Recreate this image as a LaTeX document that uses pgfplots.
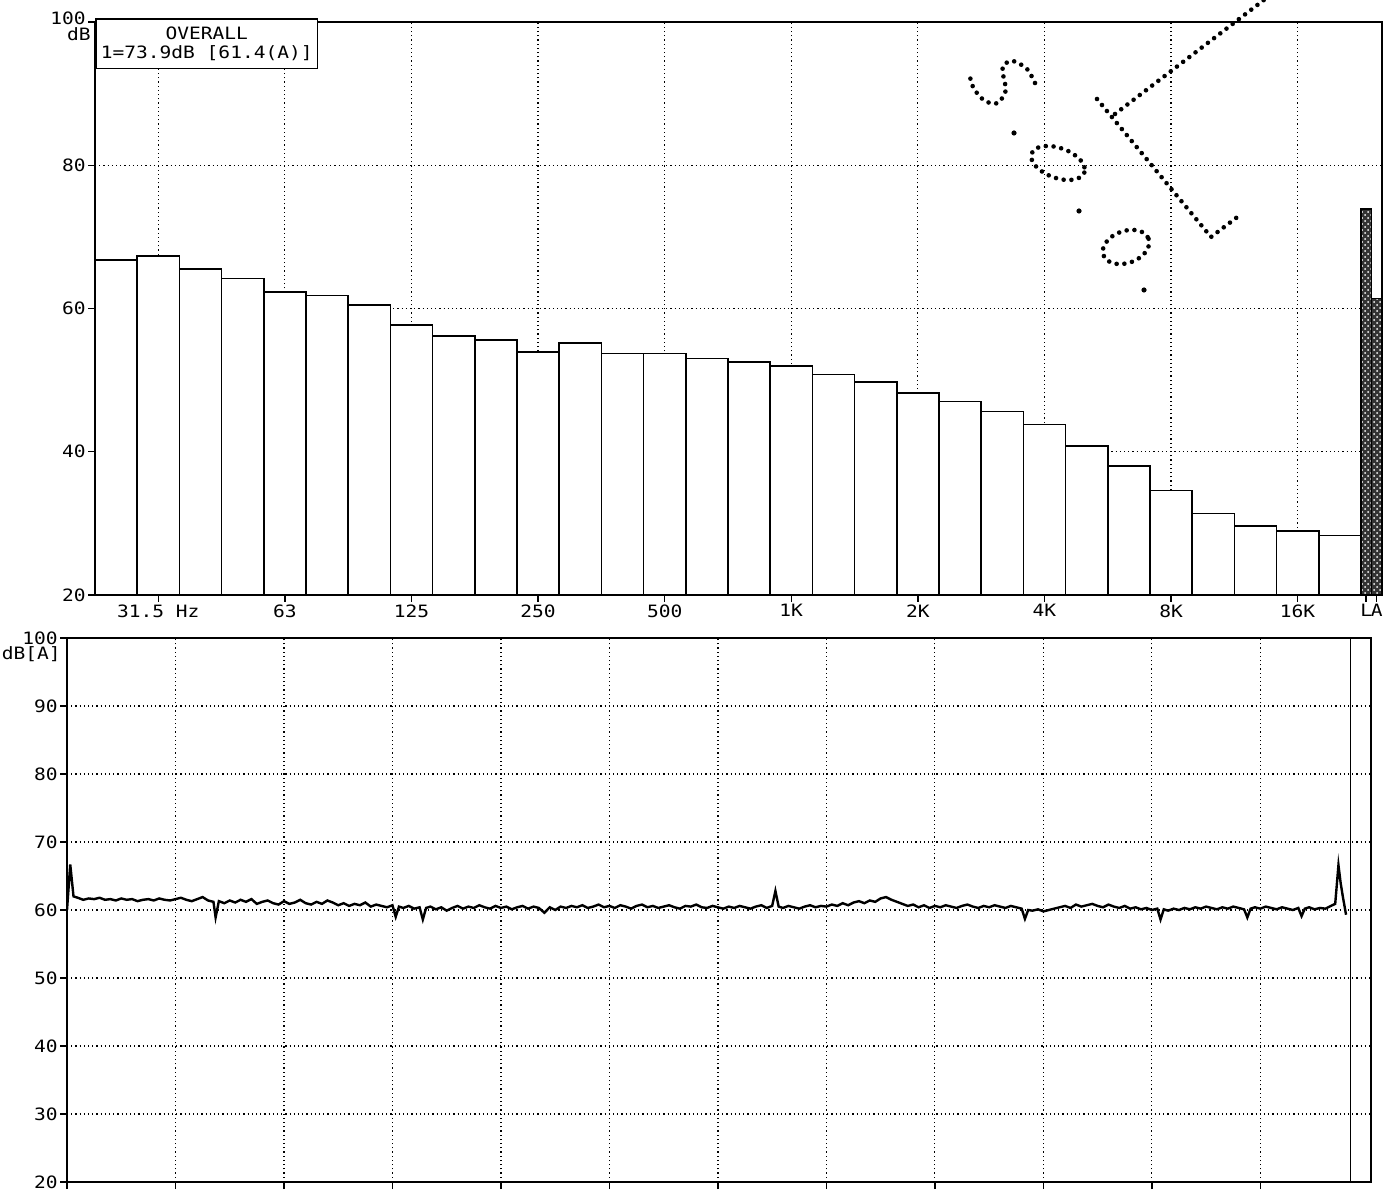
\documentclass[border=0pt]{standalone}
\usepackage{fontspec}
\usepackage{pgfplots}
\pgfplotsset{compat=1.18}
\usetikzlibrary{patterns}
\newfontfamily\prt[FakeStretch=1.15]{DejaVu Sans Mono}
\newcommand\pf{\fontsize{8.5}{8.5}\selectfont\prt}

\pgfplotsset{
  printer/.style={
    scale only axis,
    axis line style={line width=0.9pt},
    tick style={black, line width=0.7pt},
    tick align=outside, major tick length=3.5pt,
    xtick pos=bottom, ytick pos=left,
    grid=major,
    major grid style={black, line width=0.6pt, dash pattern=on 0.6pt off 1.5pt},
    ticklabel style={font=\pf, inner sep=1pt},
  },
}
\tikzset{pen/.style={line width=2.3pt, line cap=round, dash pattern=on 0pt off 3.9pt}}

\begin{document}
\begin{tikzpicture}
\useasboundingbox (0,0) rectangle (699.5pt,595pt);

% 1/3-octave spectrum, bands 25 Hz ... 20 kHz, then L and A overall levels
\begin{axis}[printer, name=spec,
  at={(47.5pt,297.5pt)}, anchor=south west,
  width=643.5pt, height=286.5pt,
  xmin=0.5, xmax=31.0, ymin=20, ymax=100,
  ytick={20,40,60,80}, yticklabels={20,40,60,80},
  extra y ticks={100}, extra y tick labels={100},
  extra y tick style={yticklabel style={yshift=2pt}},
  xtick={2,5,...,29},
  xticklabels={31.5 Hz,63,125,250,500,1K,2K,4K,8K,16K},
  extra x ticks={30.625,30.875}, extra x tick labels={L,A},
  extra x tick style={grid=none},
]
\addplot[ybar, bar width=1, bar shift=0pt, fill=white, draw=black, line width=0.8pt]
coordinates {
 (1,66.8) (2,67.3) (3,65.5) (4,64.2) (5,62.3) (6,61.8) (7,60.5) (8,57.7)
 (9,56.2) (10,55.6) (11,53.9) (12,55.2) (13,53.7) (14,53.7) (15,53.0)
 (16,52.5) (17,52.0) (18,50.8) (19,49.7) (20,48.2) (21,47.0) (22,45.6)
 (23,43.8) (24,40.8) (25,38.0) (26,34.6) (27,31.4) (28,29.6) (29,28.9)
 (30,28.3)};
\addplot[ybar, bar width=0.25, bar shift=0pt, fill=black!80, draw=black, line width=0.6pt,
  postaction={pattern=crosshatch dots, pattern color=white}]
coordinates {(30.625,73.9)};
\addplot[ybar, bar width=0.25, bar shift=0pt, fill=black!80, draw=black, line width=0.6pt,
  postaction={pattern=crosshatch dots, pattern color=white}]
coordinates {(30.875,61.4)};
\draw[line width=0.9pt] (rel axis cs:0,0) -- (rel axis cs:1,0);
\end{axis}
\node[anchor=north west, draw, line width=0.8pt, fill=white, align=center,
  font=\pf, inner xsep=2.5pt, inner ysep=4pt] at ([yshift=2pt]spec.north west) {OVERALL\\[1pt]1=73.9dB [61.4(A)]};
\node[anchor=east, font=\pf, inner sep=1pt] at ([xshift=-1pt,yshift=-6pt]spec.north west) {dB};

% A-weighted level versus time
\begin{axis}[printer, name=hist,
  at={(33.5pt,4pt)}, anchor=south west,
  width=652pt, height=272pt,
  xmin=0, xmax=12.02, ymin=20, ymax=100,
  ytick={20,30,...,100}, yticklabels={20,30,40,50,60,70,80,90,100},
  xtick={0,1,...,11}, xticklabels={},
]
\addplot[black, line width=1.2pt] coordinates {
 (0.00,60.0) (0.03,66.7) (0.06,62.0) (0.10,61.8) (0.15,61.5) (0.20,61.7)
 (0.25,61.6) (0.30,61.8) (0.35,61.5) (0.40,61.6) (0.45,61.4) (0.50,61.7)
 (0.55,61.5) (0.60,61.6) (0.65,61.3) (0.70,61.5) (0.75,61.6) (0.80,61.4)
 (0.85,61.7) (0.90,61.5) (0.95,61.4) (1.00,61.6) (1.05,61.8) (1.10,61.5)
 (1.15,61.3) (1.20,61.6) (1.25,61.9) (1.30,61.4) (1.35,61.2) (1.37,58.9)
 (1.40,61.3) (1.45,61.0) (1.50,61.4) (1.55,61.1) (1.60,61.5) (1.65,61.2)
 (1.70,61.6) (1.75,60.9) (1.80,61.2) (1.85,61.4) (1.90,61.0) (1.95,60.8)
 (2.00,61.3) (2.05,60.9) (2.10,61.1) (2.15,61.5) (2.20,61.0) (2.25,60.8)
 (2.30,61.2) (2.35,60.9) (2.40,61.4) (2.45,61.1) (2.50,60.7) (2.55,61.0)
 (2.60,60.6) (2.65,60.9) (2.70,60.7) (2.75,61.1) (2.80,60.5) (2.85,60.8)
 (2.90,60.6) (2.95,60.4) (3.00,60.7) (3.03,59.0) (3.06,60.5) (3.10,60.3)
 (3.15,60.6) (3.20,60.2) (3.25,60.4) (3.28,58.6) (3.31,60.3) (3.35,60.5)
 (3.40,60.1) (3.45,60.4) (3.50,59.9) (3.55,60.3) (3.60,60.6) (3.65,60.2)
 (3.70,60.5) (3.75,60.3) (3.80,60.7) (3.85,60.4) (3.90,60.2) (3.95,60.6)
 (4.00,60.3) (4.05,60.5) (4.10,60.1) (4.15,60.4) (4.20,60.6) (4.25,60.2)
 (4.30,60.5) (4.35,60.3) (4.40,59.6) (4.45,60.4) (4.50,60.0) (4.55,60.5)
 (4.60,60.3) (4.65,60.6) (4.70,60.4) (4.75,60.7) (4.80,60.3) (4.85,60.5)
 (4.90,60.8) (4.95,60.4) (5.00,60.6) (5.05,60.3) (5.10,60.7) (5.15,60.5)
 (5.20,60.2) (5.25,60.6) (5.30,60.8) (5.35,60.4) (5.40,60.6) (5.45,60.3)
 (5.50,60.5) (5.55,60.7) (5.60,60.4) (5.65,60.2) (5.70,60.6) (5.75,60.5)
 (5.80,60.8) (5.85,60.4) (5.90,60.3) (5.95,60.6) (6.00,60.4) (6.05,60.2)
 (6.10,60.5) (6.15,60.3) (6.20,60.6) (6.25,60.4) (6.30,60.2) (6.35,60.5)
 (6.40,60.7) (6.45,60.3) (6.50,60.6) (6.53,62.8) (6.56,60.5) (6.60,60.3)
 (6.65,60.6) (6.70,60.4) (6.75,60.2) (6.80,60.5) (6.85,60.7) (6.90,60.4)
 (6.95,60.6) (7.00,60.5) (7.05,60.8) (7.10,60.6) (7.15,61.0) (7.20,60.7)
 (7.25,61.1) (7.30,61.3) (7.35,61.0) (7.40,61.4) (7.45,61.2) (7.50,61.7)
 (7.55,61.9) (7.60,61.5) (7.65,61.2) (7.70,60.9) (7.75,60.6) (7.80,60.8)
 (7.85,60.4) (7.90,60.7) (7.95,60.3) (8.00,60.6) (8.05,60.4) (8.10,60.7)
 (8.15,60.5) (8.20,60.3) (8.25,60.6) (8.30,60.8) (8.35,60.5) (8.40,60.3)
 (8.45,60.6) (8.50,60.4) (8.55,60.7) (8.60,60.5) (8.65,60.3) (8.70,60.6)
 (8.75,60.4) (8.80,60.2) (8.83,58.7) (8.86,60.0) (8.90,59.9) (8.95,60.1)
 (9.00,59.8) (9.05,60.0) (9.10,60.2) (9.15,60.4) (9.20,60.6) (9.25,60.3)
 (9.30,60.8) (9.35,60.5) (9.40,60.7) (9.45,60.9) (9.50,60.6) (9.55,60.4)
 (9.60,60.8) (9.65,60.5) (9.70,60.3) (9.75,60.6) (9.80,60.2) (9.85,60.4)
 (9.90,60.1) (9.95,60.3) (10.00,60.0) (10.05,60.2) (10.08,58.6) (10.11,60.1)
 (10.15,59.9) (10.20,60.2) (10.25,60.0) (10.30,60.3) (10.35,60.1) (10.40,60.4)
 (10.45,60.2) (10.50,60.5) (10.55,60.3) (10.60,60.1) (10.65,60.4) (10.70,60.2)
 (10.75,60.5) (10.80,60.3) (10.85,60.1) (10.88,58.9) (10.91,60.2) (10.95,60.4)
 (11.00,60.2) (11.05,60.5) (11.10,60.3) (11.15,60.1) (11.20,60.4) (11.25,60.2)
 (11.30,60.0) (11.35,60.3) (11.38,59.1) (11.41,60.2) (11.45,60.4) (11.50,60.1)
 (11.55,60.3) (11.60,60.2) (11.65,60.6) (11.69,60.9) (11.72,66.6) (11.74,64.0)
 (11.76,62.0) (11.79,59.3)};
% end of the time record, the LA column lies to its right
\draw[line width=0.8pt] (axis cs:11.83,20) -- (axis cs:11.83,100);
\end{axis}
\node[anchor=east, font=\pf, inner sep=1pt] at ([xshift=-2pt,yshift=-8pt]hist.north west) {dB[A]};

% dotted hand annotation plotted by the recorder pen
\begin{scope}[x=0.5pt, y=-0.5pt, shift={(0pt,595pt)}]
  \draw[pen] plot[smooth] coordinates {(1035,83) (1027,69) (1013,61) (1003,66)
    (1004,80) (1006,90) (998,103) (985,101) (974,89) (970,77)};
  \fill (1014,133) circle (1.3pt);
  \draw[pen] (1058,163) ellipse [x radius=28, y radius=15, rotate=-20];
  \fill (1079,211) circle (1.3pt);
  \draw[pen] (1126,247) ellipse [x radius=24, y radius=16, rotate=20];
  \fill (1144,290) circle (1.3pt);
  \draw[pen] (1097,99) -- (1211,237) -- (1240,215);
  \draw[pen] (1115,114) -- (1290,-20);
\end{scope}
\end{tikzpicture}
\end{document}
